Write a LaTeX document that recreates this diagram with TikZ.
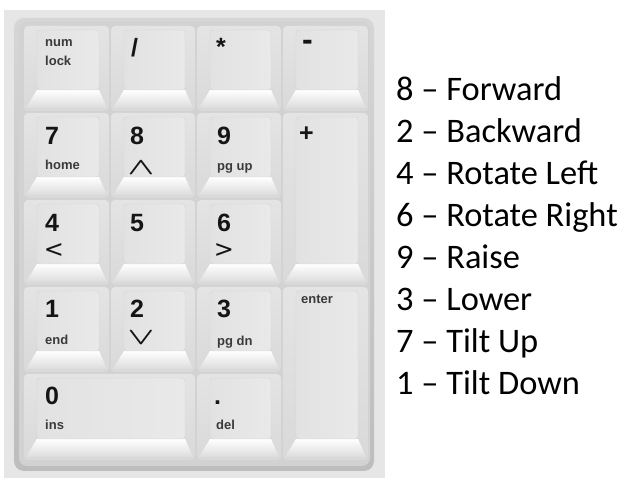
\documentclass[tikz,border=0pt]{standalone}
\usepackage{fontspec}
\setmainfont{Liberation Sans}
\newfontfamily\calibri{Carlito}
\newfontfamily\dejavu{DejaVu Sans}
\definecolor{padbg}{HTML}{E6E6E6}
\definecolor{bezeltop}{HTML}{D6D6D6}
\definecolor{bezelbot}{HTML}{BDBDBD}
\definecolor{gapgray}{HTML}{D2D2D2}
\definecolor{keytop}{HTML}{E4E4E4}
\definecolor{keybot}{HTML}{D9D9D9}
\definecolor{keybevel}{HTML}{DCDCDC}
\definecolor{faceleft}{HTML}{E2E2E2}
\definecolor{facemid}{HTML}{F4F4F4}
\definecolor{faceright}{HTML}{E9E9E9}
\definecolor{faceedge}{HTML}{D4D4D4}
\definecolor{keyink}{HTML}{151515}
\definecolor{smallink}{HTML}{3A3A3A}

% one key: left, top, right, bottom (pixels, y down)
\newcommand{\keycap}[4]{%
  \shade[rounded corners=4pt, top color=keytop, bottom color=keybot]
    (#1,#2) rectangle (#3,#4);
  \shade[top color=white, bottom color=keybevel]
    (#1+13,#4-21) -- (#3-10,#4-21) -- (#3-2,#4-3) -- (#1+2,#4-3) -- cycle;
  \shade[rounded corners=3pt, left color=faceleft, middle color=facemid,
         right color=faceright, draw=faceedge, line width=0.4pt]
    (#1+13,#2+4) rectangle (#3-10,#4-21);
}

\begin{document}
\begin{tikzpicture}[x=1pt, y=-1pt,
  digit/.style={anchor=base west, inner sep=0pt, text=keyink,
                font=\fontsize{25}{25}\selectfont\bfseries},
  small/.style={anchor=base west, inner sep=0pt, text=smallink,
                font=\fontsize{13}{13}\selectfont\bfseries},
  chevron/.style={inner sep=0pt, text=keyink,
                  font=\dejavu\fontsize{24}{24}\selectfont},
  arrowkey/.style={chevron, font=\fontsize{24}{24}\selectfont\boldmath},
  legend/.style={anchor=base west, inner sep=0pt,
                 font=\calibri\fontsize{34.4}{34.4}\selectfont}]

\useasboundingbox (0,0) rectangle (633,494);

% Background of the keypad
\fill[padbg] (4,10) rectangle (385,478);

% Bezel
\shade[rounded corners=10pt, top color=bezeltop, bottom color=bezelbot]
  (14,18) rectangle (374,471);
\fill[gapgray, rounded corners=8pt] (19,22) rectangle (370,466);

% --- Keys ---
\keycap{24}{26}{109}{111}    % num lock
\keycap{111}{26}{195}{111}   % /
\keycap{197}{26}{281}{111}   % *
\keycap{283}{26}{368}{111}   % -
\keycap{24}{113}{109}{198}   % 7
\keycap{111}{113}{195}{198}  % 8
\keycap{197}{113}{281}{198}  % 9
\keycap{283}{113}{368}{285}  % +
\keycap{24}{200}{109}{285}   % 4
\keycap{111}{200}{195}{285}  % 5
\keycap{197}{200}{281}{285}  % 6
\keycap{24}{287}{109}{372}   % 1
\keycap{111}{287}{195}{372}  % 2
\keycap{197}{287}{281}{372}  % 3
\keycap{283}{287}{368}{460}  % enter
\keycap{24}{374}{195}{460}   % 0
\keycap{197}{374}{281}{460}  % .

% --- Key labels ---
\node[small] (numA) at (45,47) {num};
\node[small] (numB) at (45,66) {lock};
\node[digit] (slash) at (131,57) {/};
\node[digit, anchor=north west] (star) at (216,38) {*};
\node[digit, anchor=north west, font=\fontsize{32}{32}\selectfont\bfseries]
  (minus) at (302,40) {-};

\node[digit] (k7) at (45,145) {7};
\node[small] (k7b) at (45,170) {home};
\node[digit] (k8) at (130,145) {8};
\node[arrowkey] (k8b) at (141,168) {\scalebox{1.4}[0.95]{$\wedge$}};
\node[digit] (k9) at (217,145) {9};
\node[small] (k9b) at (217,171) {pg up};
\node[digit, anchor=north west] (plus) at (299,127) {+};

\node[digit] (k4) at (45,232) {4};
\node[chevron] (k4b) at (54,251) {<};
\node[digit] (k5) at (130,232) {5};
\node[digit] (k6) at (217,232) {6};
\node[chevron] (k6b) at (224,251) {>};

\node[digit] (k1) at (45,318) {1};
\node[small] (k1b) at (45,345) {end};
\node[digit] (k2) at (130,318) {2};
\node[arrowkey] (k2b) at (141,338) {\scalebox{1.4}[0.95]{$\vee$}};
\node[digit] (k3) at (217,318) {3};
\node[small] (k3b) at (217,346) {pg dn};
\node[small] (enter) at (301,304) {enter};

\node[digit] (k0) at (45,405) {0};
\node[small] (k0b) at (45,430) {ins};
\node[digit] (dot) at (214,405) {.};
\node[small] (dotb) at (216,430) {del};

% --- Legend ---
\node[legend] (l8) at (396,101) {8 – Forward};
\node[legend] (l2) at (396,143) {2 – Backward};
\node[legend] (l4) at (396,185) {4 – Rotate Left};
\node[legend] (l6) at (396,227) {6 – Rotate Right};
\node[legend] (l9) at (396,269) {9 – Raise};
\node[legend] (l3) at (396,311) {3 – Lower};
\node[legend] (l7) at (396,353) {7 – Tilt Up};
\node[legend] (l1) at (396,395) {1 – Tilt Down};

\end{tikzpicture}
\end{document}
